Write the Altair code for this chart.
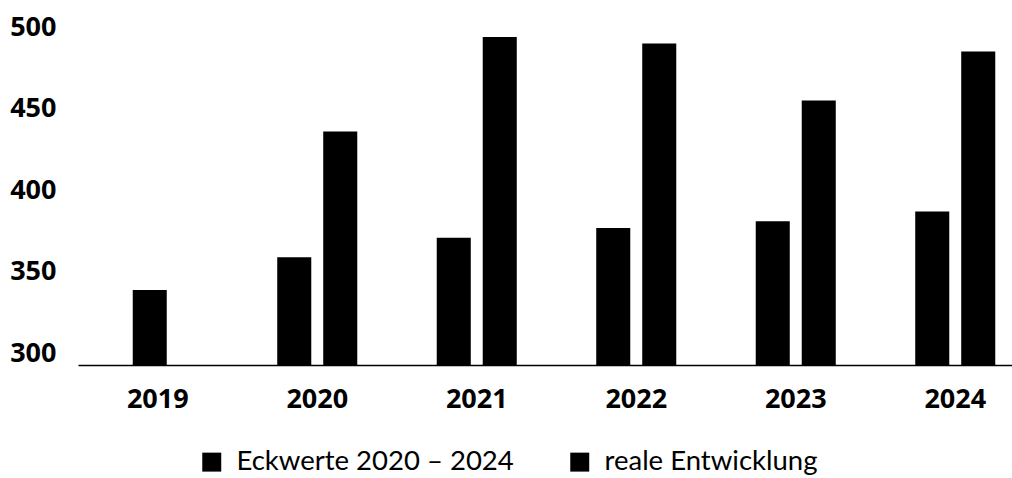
import altair as alt
import pandas as pd

# ---- data ----
years = ["2019", "2020", "2021", "2022", "2023", "2024"]
base_year = ["2019"]
base_value = [342]
pair_years = ["2020", "2021", "2022", "2023", "2024"]
eckwerte = [362, 374, 380, 384, 390]
reale = [439, 497, 493, 458, 488]
series = ["Eckwerte 2020 – 2024", "reale Entwicklung"]
y_ticks = [300, 350, 400, 450, 500]
y_floor = 296

base_df = pd.DataFrame({"year": base_year, "value": base_value})
pair_df = pd.DataFrame(
    {
        "year": pair_years * 2,
        "series": [series[0]] * len(pair_years) + [series[1]] * len(pair_years),
        "value": eckwerte + reale,
    }
)

FONT = "Open Sans"

x_enc = alt.X(
    "year:N",
    sort=years,
    scale=alt.Scale(domain=years, range=[0, 957], paddingInner=0, paddingOuter=0),
    axis=alt.Axis(
        title=None,
        labelAngle=0,
        labelFont=FONT,
        labelFontWeight="bold",
        labelFontSize=27,
        labelColor="#000000",
        labelPadding=21,
        ticks=False,
        domainColor="#000000",
        domainWidth=1.5,
        grid=False,
    ),
)

y_enc = alt.Y(
    "value:Q",
    scale=alt.Scale(domain=[y_floor, 500], nice=False, zero=False),
    axis=alt.Axis(
        title=None,
        values=y_ticks,
        labelFont=FONT,
        labelFontWeight="bold",
        labelFontSize=27,
        labelColor="#000000",
        labelPadding=22,
        labelOffset=-5,
        domain=False,
        ticks=False,
        grid=False,
    ),
)

base_layer = (
    alt.Chart(base_df)
    .mark_bar(size=34, xOffset=-8, color="#000000")
    .encode(x=x_enc, y=y_enc, y2=alt.datum(y_floor))
)

pair_layer = (
    alt.Chart(pair_df)
    .mark_bar()
    .encode(
        x=x_enc,
        y=y_enc,
        y2=alt.datum(y_floor),
        xOffset=alt.XOffset(
            "series:N",
            sort=series,
            scale=alt.Scale(domain=series, paddingInner=0.26, paddingOuter=0.864),
        ),
        color=alt.Color(
            "series:N",
            sort=series,
            scale=alt.Scale(domain=series, range=["#000000", "#000000"]),
            legend=alt.Legend(
                title=None,
                orient="none",
                direction="horizontal",
                legendX=120,
                legendY=416,
                padding=0,
                labelFont="Lato",
                labelFontSize=27.5,
                labelColor="#000000",
                labelOffset=11,
                labelLimit=600,
                columnPadding=52,
                symbolType="square",
                symbolSize=360,
                symbolStrokeWidth=0,
            ),
        ),
    )
)

chart = (
    alt.layer(base_layer, pair_layer)
    .properties(
        width=934,
        height=333,
        padding={"left": 78, "top": 32, "right": 0, "bottom": 113},
        autosize=alt.AutoSizeParams(type="none"),
        background="#ffffff",
    )
    .configure_view(stroke=None)
)

chart.save("out.html", embed_options={"renderer": "svg", "actions": False})
